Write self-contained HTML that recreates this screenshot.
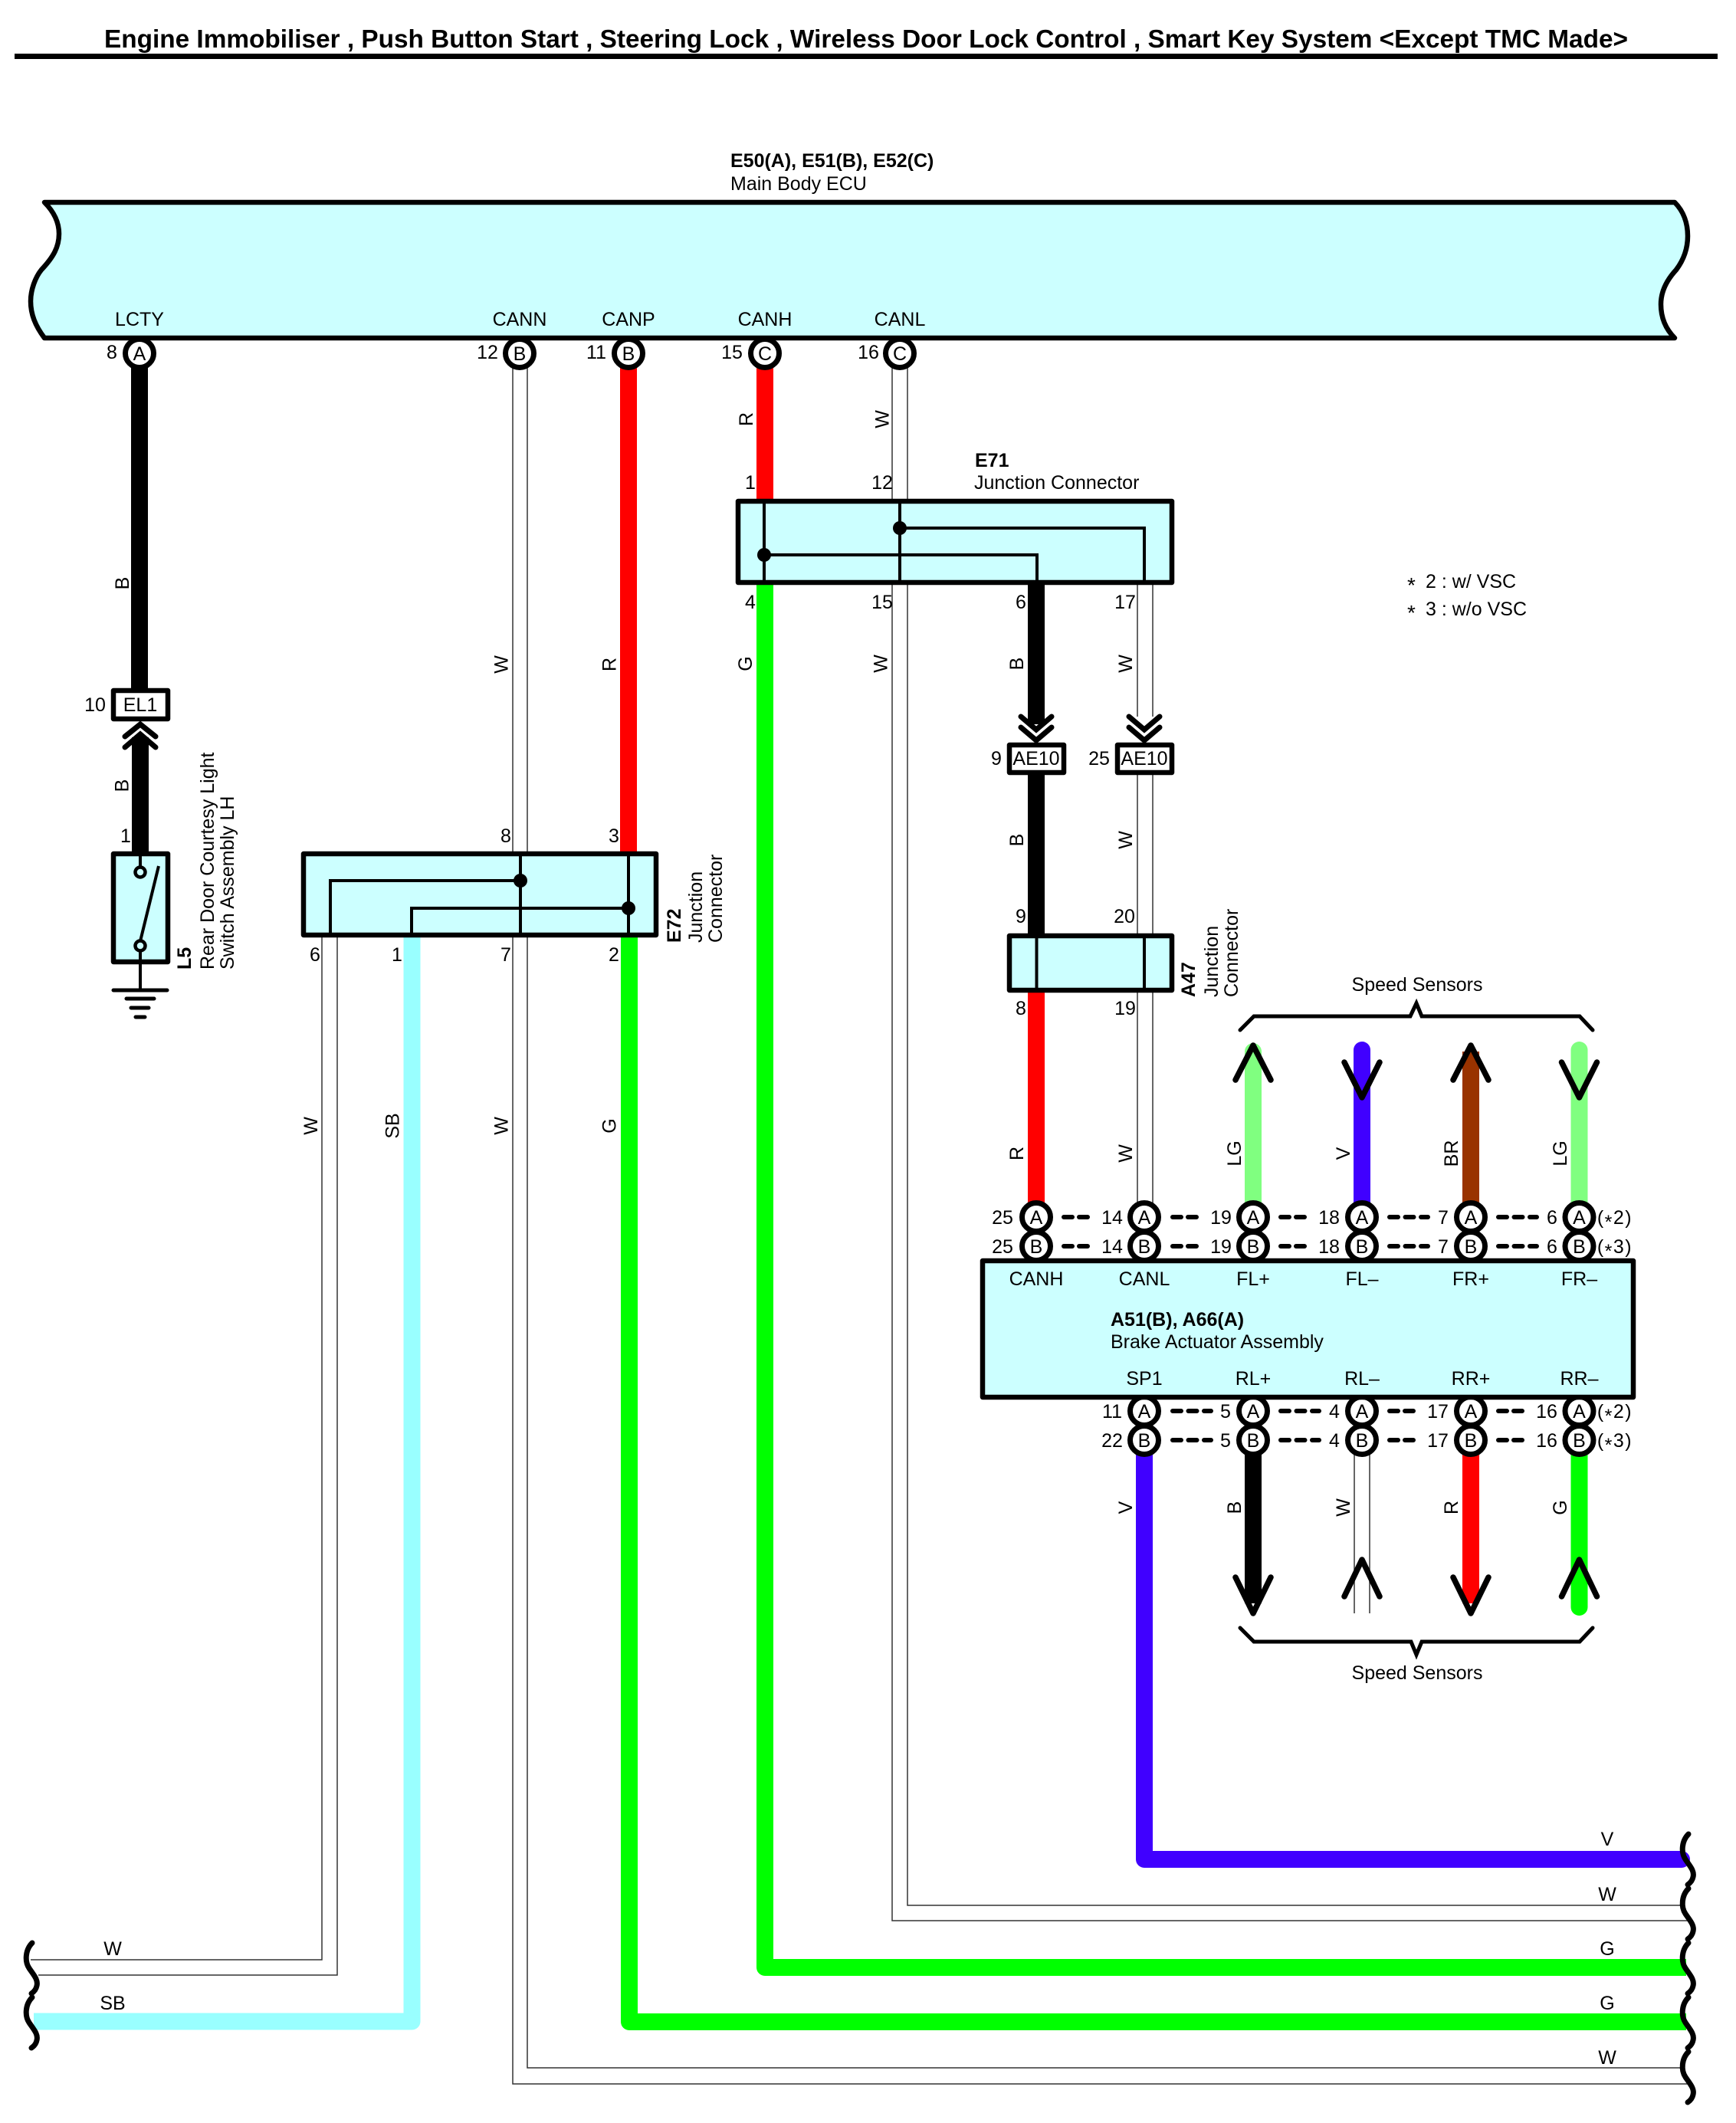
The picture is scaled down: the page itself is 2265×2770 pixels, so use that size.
<!DOCTYPE html>
<html><head><meta charset="utf-8"><style>
html,body{margin:0;padding:0;background:#fff}
svg{display:block}
text{font-family:"Liberation Sans",Arial,sans-serif;font-size:25px;fill:#000}
.m{text-anchor:middle}
.b{font-weight:bold}
.k{stroke:#000;fill:none}
.w{stroke:#333;stroke-width:1.5;fill:none}
.t{fill:none;stroke-width:22;stroke-linejoin:round}
.r{stroke-linecap:round}
.a{stroke:#000;stroke-width:7.5;fill:none;stroke-linecap:round;stroke-linejoin:round}
.c{stroke:#000;stroke-width:7;fill:none;stroke-linecap:round;stroke-linejoin:miter}
.p{fill:#fff;stroke:#000;stroke-width:7}
.box{fill:#ccffff;stroke:#000;stroke-width:6.5;stroke-linejoin:round}
.wb{fill:#fff;stroke:#000;stroke-width:6.5;stroke-linejoin:round}
.i{stroke:#000;stroke-width:4;fill:none}
.d{stroke:#000;stroke-width:6;stroke-linecap:round}
.d2{stroke-dasharray:11 9;}
.d3{stroke-dasharray:11 9.5;}
.n{letter-spacing:1.5px}
</style></head><body>
<svg xmlns="http://www.w3.org/2000/svg" width="2265" height="2770" viewBox="0 0 2265 2770">
<defs><path id="sq" d="M0 0C-9 9,-10 24,-4 33C2 42,8 48,6 56C5 61,2 64,-1 66" stroke="#000" stroke-width="7" fill="none" stroke-linecap="round"/></defs>
<rect width="2265" height="2770" fill="#fff"/>

<!-- title -->
<text x="136" y="62" font-size="33" class="b" style="font-size:33px" textLength="1988" lengthAdjust="spacingAndGlyphs">Engine Immobiliser , Push Button Start , Steering Lock , Wireless Door Lock Control , Smart Key System &lt;Except TMC Made&gt;</text>
<rect x="19" y="70" width="2222" height="7" fill="#000"/>

<text x="953" y="218" class="b">E50(A), E51(B), E52(C)</text>
<text x="953" y="248">Main Body ECU</text>

<!-- thick wires -->
<path class="t" stroke="#000" d="M182 470V898"/>
<path class="t" stroke="#000" d="M183 962V1112"/>
<path class="t" stroke="#f00" d="M820 470V1112"/>
<path class="t" stroke="#f00" d="M998 470V655"/>
<path class="t" stroke="#0f0" d="M998 760V2567H2200"/>
<path class="t" stroke="#0f0" d="M821 1222V2638H2200"/>
<path class="t" stroke="#99ffff" d="M537.5 1222V2637.5H44"/>
<path class="t" stroke="#000" d="M1352 760V945"/>
<path class="t" stroke="#000" d="M1352 1008V1220"/>
<path class="t" stroke="#f00" d="M1352 1293V1570"/>
<path class="t r" stroke="#80ff80" d="M1635 1372V1570"/>
<path class="t r" stroke="#4000ff" d="M1777 1370V1570"/>
<path class="t" stroke="#993300" d="M1919 1372V1570"/>
<path class="t r" stroke="#80ff80" d="M2060.5 1370V1570"/>
<path class="t" stroke="#4000ff" d="M1493 1895V2426"/>
<path class="t" stroke="#4000ff" d="M1493 2426H2194" stroke-linecap="round"/>
<path class="t" stroke="#000" d="M1635 1895V2092"/>
<path class="t" stroke="#f00" d="M1919 1895V2092"/>
<path class="t r" stroke="#0f0" d="M2060.5 1895V2097"/>

<!-- white wires -->
<path class="w" d="M669 470V2719H2204"/>
<path class="w" d="M688 470V2698H2193"/>
<path class="w" d="M1164 470V2506H2204"/>
<path class="w" d="M1184 470V2486H2193"/>
<path class="w" d="M1484 760V935M1504 760V935"/>
<path class="w" d="M1484 1008V1570M1504 1008V1570"/>
<path class="w" d="M420 1222V2557H40"/>
<path class="w" d="M440 1222V2577H50"/>
<path class="w" d="M1767 1895V2105M1787 1895V2105"/>

<!-- pins -->
<g class="p">
<circle class="p" cx="182" cy="461" r="18.5"/><circle class="p" cx="678" cy="461" r="18.5"/><circle class="p" cx="820" cy="461" r="18.5"/><circle class="p" cx="998" cy="461" r="18.5"/><circle class="p" cx="1174" cy="461" r="18.5"/>
<circle class="p" cx="1352" cy="1588" r="18.5"/><circle class="p" cx="1352" cy="1626" r="18.5"/>
<circle class="p" cx="1493" cy="1588" r="18.5"/><circle class="p" cx="1493" cy="1626" r="18.5"/>
<circle class="p" cx="1635" cy="1588" r="18.5"/><circle class="p" cx="1635" cy="1626" r="18.5"/>
<circle class="p" cx="1777" cy="1588" r="18.5"/><circle class="p" cx="1777" cy="1626" r="18.5"/>
<circle class="p" cx="1919" cy="1588" r="18.5"/><circle class="p" cx="1919" cy="1626" r="18.5"/>
<circle class="p" cx="2060.5" cy="1588" r="18.5"/><circle class="p" cx="2060.5" cy="1626" r="18.5"/>
<circle class="p" cx="1493" cy="1841" r="18.5"/><circle class="p" cx="1493" cy="1879" r="18.5"/>
<circle class="p" cx="1635" cy="1841" r="18.5"/><circle class="p" cx="1635" cy="1879" r="18.5"/>
<circle class="p" cx="1777" cy="1841" r="18.5"/><circle class="p" cx="1777" cy="1879" r="18.5"/>
<circle class="p" cx="1919" cy="1841" r="18.5"/><circle class="p" cx="1919" cy="1879" r="18.5"/>
<circle class="p" cx="2060.5" cy="1841" r="18.5"/><circle class="p" cx="2060.5" cy="1879" r="18.5"/>
</g>

<!-- ECU -->
<path class="box" d="M58 264L2185 264C2197 276,2202 292,2202 308C2202 330,2193 344,2187 352C2175 365,2167 380,2167 397C2167 415,2174 430,2185 441L58 441C46 425,40 410,40 393C40 378,46 362,54 352C70 335,77 322,77 305C77 290,70 276,58 264Z"/>

<!-- E71 -->
<rect class="box" x="963" y="654" width="566" height="106"/>
<path class="i" d="M997 654V760M1174 654V760M1174 689H1493V760M997 724H1353V760"/>
<circle cx="1174" cy="689" r="9"/><circle cx="997" cy="724" r="9"/>

<!-- A47 -->
<rect class="box" x="1317" y="1221" width="212" height="71"/>
<path class="i" d="M1352.5 1221V1292M1493 1221V1292"/>

<!-- E72 -->
<rect class="box" x="396" y="1114" width="460" height="106"/>
<path class="i" d="M679 1114V1220M820 1114V1220M431 1220V1149H679M537 1220V1185H820"/>
<circle cx="679" cy="1149" r="9"/><circle cx="820" cy="1185" r="9"/>

<!-- L5 -->
<rect class="box" x="148" y="1114" width="71" height="141"/>
<path class="i" d="M183 1114V1131M183 1242V1292M207 1130L183 1228"/>
<circle cx="183" cy="1138" r="6.5" fill="#ccffff" stroke="#000" stroke-width="4.5"/>
<circle cx="183" cy="1234" r="6.5" fill="#ccffff" stroke="#000" stroke-width="4.5"/>
<path stroke="#000" stroke-width="5" stroke-linecap="round" d="M148 1292H218M165 1303H201M171 1315H194M177 1327H189"/>

<!-- Brake actuator -->
<rect class="box" x="1282" y="1645" width="849" height="178"/>

<!-- connector boxes -->
<rect class="wb" x="148" y="901" width="71" height="37"/>
<rect class="wb" x="1317" y="972" width="71" height="36"/>
<rect class="wb" x="1458" y="972" width="71" height="36"/>
<text class="m" x="183" y="928">EL1</text>
<text class="m" x="1352" y="998">AE10</text>
<text class="m" x="1493" y="998">AE10</text>

<!-- chevrons -->
<path class="c" d="M163 961L183 945L203 961M163 975L183 958L203 975"/>
<path class="c" d="M1332 935L1352 952L1372 935M1332 949L1352 966L1372 949"/>
<path class="c" d="M1473 935L1493 952L1513 935M1473 949L1493 966L1513 949"/>

<!-- arrows -->
<path class="a" d="M1612 1409L1635 1364L1658 1409"/>
<path class="a" d="M1754 1386L1777 1432L1800 1386"/>
<path class="a" d="M1896 1409L1919 1364L1942 1409"/>
<path class="a" d="M2037.5 1386L2060.5 1432L2083.5 1386"/>
<path class="a" d="M1612 2058L1635 2105L1658 2058"/>
<path class="a" d="M1754 2083L1777 2035L1800 2083"/>
<path class="a" d="M1896 2058L1919 2105L1942 2058"/>
<path class="a" d="M2037.5 2083L2060.5 2035L2083.5 2083"/>

<!-- brackets -->
<path class="k" stroke-width="5" stroke-linecap="round" d="M1618 1344L1636 1326H1840L1848 1309L1855 1326H2061L2078 1344"/>
<path class="k" stroke-width="5" stroke-linecap="round" d="M1618 2124L1636 2142H1841L1848 2159L1855 2142H2061L2078 2124"/>

<!-- dashes -->
<g class="d">
<path class="d d2" d="M1388 1588H1419M1530 1588H1561M1671 1588H1702M1388 1626H1419M1530 1626H1561M1671 1626H1702M1813 1841H1844M1955 1841H1986M1813 1879H1844M1955 1879H1986"/>
<path class="d d3" d="M1813 1588H1863M1955 1588H2005M1813 1626H1863M1955 1626H2005M1530 1841H1580M1671 1841H1721M1530 1879H1580M1671 1879H1721"/>
</g>

<!-- squiggles -->
<use href="#sq" x="2203" y="2393"/><use href="#sq" x="2203" y="2464"/><use href="#sq" x="2203" y="2535"/><use href="#sq" x="2203" y="2606"/><use href="#sq" x="2203" y="2677"/>
<use href="#sq" x="42" y="2535"/><use href="#sq" x="42" y="2606"/>

<!-- ECU labels -->
<g class="m" text-anchor="middle">
<text class="m" x="182" y="425">LCTY</text><text class="m" x="678" y="425">CANN</text><text class="m" x="820" y="425">CANP</text><text class="m" x="998" y="425">CANH</text><text class="m" x="1174" y="425">CANL</text>
<text class="m" x="182" y="470">A</text><text class="m" x="678" y="470">B</text><text class="m" x="820" y="470">B</text><text class="m" x="998" y="470">C</text><text class="m" x="1174" y="470">C</text>
<text class="m" x="146" y="468">8</text><text class="m" x="636" y="468">12</text><text class="m" x="778" y="468">11</text><text class="m" x="955" y="468">15</text><text class="m" x="1133" y="468">16</text>

<!-- E71 pin nums -->
<text class="m" x="979" y="638">1</text><text class="m" x="1151" y="638">12</text>
<text class="m" x="979" y="794">4</text><text class="m" x="1151" y="794">15</text><text class="m" x="1332" y="794">6</text><text class="m" x="1468" y="794">17</text>
<text class="m" x="1300" y="998">9</text><text class="m" x="1434" y="998">25</text>
<text class="m" x="1332" y="1204">9</text><text class="m" x="1467" y="1204">20</text>
<text class="m" x="1332" y="1324">8</text><text class="m" x="1468" y="1324">19</text>

<!-- left nums -->
<text class="m" x="124" y="928">10</text><text class="m" x="164" y="1099">1</text>
<text class="m" x="660" y="1099">8</text><text class="m" x="801" y="1099">3</text>
<text class="m" x="411" y="1254">6</text><text class="m" x="518" y="1254">1</text><text class="m" x="660" y="1254">7</text><text class="m" x="801" y="1254">2</text>

<!-- brake upper pins -->
<text class="m" x="1352" y="1597">A</text><text class="m" x="1352" y="1635">B</text>
<text class="m" x="1493" y="1597">A</text><text class="m" x="1493" y="1635">B</text>
<text class="m" x="1635" y="1597">A</text><text class="m" x="1635" y="1635">B</text>
<text class="m" x="1777" y="1597">A</text><text class="m" x="1777" y="1635">B</text>
<text class="m" x="1919" y="1597">A</text><text class="m" x="1919" y="1635">B</text>
<text class="m" x="2060.5" y="1597">A</text><text class="m" x="2060.5" y="1635">B</text>
<text class="m" x="1308" y="1597">25</text><text class="m" x="1308" y="1635">25</text>
<text class="m" x="1451" y="1597">14</text><text class="m" x="1451" y="1635">14</text>
<text class="m" x="1593" y="1597">19</text><text class="m" x="1593" y="1635">19</text>
<text class="m" x="1734" y="1597">18</text><text class="m" x="1734" y="1635">18</text>
<text class="m" x="1883" y="1597">7</text><text class="m" x="1883" y="1635">7</text>
<text class="m" x="2025" y="1597">6</text><text class="m" x="2025" y="1635">6</text>
<text class="m n" x="2107" y="1597">(<tspan dy="6">*</tspan><tspan dy="-6">2)</tspan></text>
<text class="m n" x="2107" y="1635">(<tspan dy="6">*</tspan><tspan dy="-6">3)</tspan></text>

<!-- brake labels -->
<text class="m" x="1352" y="1677">CANH</text><text class="m" x="1493" y="1677">CANL</text><text class="m" x="1635" y="1677">FL+</text><text class="m" x="1777" y="1677">FL–</text><text class="m" x="1919" y="1677">FR+</text><text class="m" x="2060.5" y="1677">FR–</text>
<text class="m" x="1493" y="1807">SP1</text><text class="m" x="1635" y="1807">RL+</text><text class="m" x="1777" y="1807">RL–</text><text class="m" x="1919" y="1807">RR+</text><text class="m" x="2060.5" y="1807">RR–</text>

<!-- brake lower pins -->
<text class="m" x="1493" y="1850">A</text><text class="m" x="1493" y="1888">B</text>
<text class="m" x="1635" y="1850">A</text><text class="m" x="1635" y="1888">B</text>
<text class="m" x="1777" y="1850">A</text><text class="m" x="1777" y="1888">B</text>
<text class="m" x="1919" y="1850">A</text><text class="m" x="1919" y="1888">B</text>
<text class="m" x="2060.5" y="1850">A</text><text class="m" x="2060.5" y="1888">B</text>
<text class="m" x="1451" y="1850">11</text><text class="m" x="1451" y="1888">22</text>
<text class="m" x="1599" y="1850">5</text><text class="m" x="1599" y="1888">5</text>
<text class="m" x="1741" y="1850">4</text><text class="m" x="1741" y="1888">4</text>
<text class="m" x="1876" y="1850">17</text><text class="m" x="1876" y="1888">17</text>
<text class="m" x="2018" y="1850">16</text><text class="m" x="2018" y="1888">16</text>
<text class="m n" x="2107" y="1850">(<tspan dy="6">*</tspan><tspan dy="-6">2)</tspan></text>
<text class="m n" x="2107" y="1888">(<tspan dy="6">*</tspan><tspan dy="-6">3)</tspan></text>

<text class="m" x="1849" y="1293">Speed Sensors</text>
<text class="m" x="1849" y="2191">Speed Sensors</text>

<!-- wire end labels -->
<text class="m" x="2097" y="2408">V</text><text class="m" x="2097" y="2480">W</text><text class="m" x="2097" y="2551">G</text><text class="m" x="2097" y="2622">G</text><text class="m" x="2097" y="2693">W</text>
<text class="m" x="147" y="2551">W</text><text class="m" x="147" y="2622">SB</text>
</g>

<text x="1449" y="1730" class="b">A51(B), A66(A)</text>
<text x="1449" y="1759">Brake Actuator Assembly</text>
<text x="1272" y="609" class="b">E71</text>
<text x="1271" y="638">Junction Connector</text>

<text x="1836" y="773" style="font-size:28px">*</text><text x="1860" y="767">2 : w/ VSC</text>
<text x="1836" y="809" style="font-size:28px">*</text><text x="1860" y="803">3 : w/o VSC</text>

<!-- rotated wire labels -->
<text class="m" text-anchor="middle" transform="translate(159 761) rotate(-90)" y="9">B</text>
<text class="m" text-anchor="middle" transform="translate(158.500 1025) rotate(-90)" y="9">B</text>
<text class="m" text-anchor="middle" transform="translate(653.500 867) rotate(-90)" y="9">W</text>
<text class="m" text-anchor="middle" transform="translate(794.500 867) rotate(-90)" y="9">R</text>
<text class="m" text-anchor="middle" transform="translate(973 547) rotate(-90)" y="9">R</text>
<text class="m" text-anchor="middle" transform="translate(1150.500 547) rotate(-90)" y="9">W</text>
<text class="m" text-anchor="middle" transform="translate(972 866) rotate(-90)" y="9">G</text>
<text class="m" text-anchor="middle" transform="translate(1148.500 866) rotate(-90)" y="9">W</text>
<text class="m" text-anchor="middle" transform="translate(1326 866) rotate(-90)" y="9">B</text>
<text class="m" text-anchor="middle" transform="translate(1468 866) rotate(-90)" y="9">W</text>
<text class="m" text-anchor="middle" transform="translate(1326 1096) rotate(-90)" y="9">B</text>
<text class="m" text-anchor="middle" transform="translate(1468 1096) rotate(-90)" y="9">W</text>
<text class="m" text-anchor="middle" transform="translate(405 1469) rotate(-90)" y="9">W</text>
<text class="m" text-anchor="middle" transform="translate(511.500 1469) rotate(-90)" y="9">SB</text>
<text class="m" text-anchor="middle" transform="translate(653.500 1469) rotate(-90)" y="9">W</text>
<text class="m" text-anchor="middle" transform="translate(794.500 1469) rotate(-90)" y="9">G</text>
<text class="m" text-anchor="middle" transform="translate(1326 1505) rotate(-90)" y="9">R</text>
<text class="m" text-anchor="middle" transform="translate(1468 1505) rotate(-90)" y="9">W</text>
<text class="m" text-anchor="middle" transform="translate(1610 1505) rotate(-90)" y="9">LG</text>
<text class="m" text-anchor="middle" transform="translate(1752 1505) rotate(-90)" y="9">V</text>
<text class="m" text-anchor="middle" transform="translate(1893 1505) rotate(-90)" y="9">BR</text>
<text class="m" text-anchor="middle" transform="translate(2035 1505) rotate(-90)" y="9">LG</text>
<text class="m" text-anchor="middle" transform="translate(1468 1967) rotate(-90)" y="9">V</text>
<text class="m" text-anchor="middle" transform="translate(1610 1967) rotate(-90)" y="9">B</text>
<text class="m" text-anchor="middle" transform="translate(1752 1967) rotate(-90)" y="9">W</text>
<text class="m" text-anchor="middle" transform="translate(1893 1967) rotate(-90)" y="9">R</text>
<text class="m" text-anchor="middle" transform="translate(2035 1967) rotate(-90)" y="9">G</text>

<!-- rotated designators -->
<text class="b" transform="translate(240 1265) rotate(-90)" y="9">L5</text>
<text transform="translate(270 1265) rotate(-90)" y="9">Rear Door Courtesy Light</text>
<text transform="translate(296 1265) rotate(-90)" y="9">Switch Assembly LH</text>
<text class="b" transform="translate(879 1230) rotate(-90)" y="9">E72</text>
<text transform="translate(907 1230) rotate(-90)" y="9">Junction</text>
<text transform="translate(933 1230) rotate(-90)" y="9">Connector</text>
<text class="b" transform="translate(1550 1301) rotate(-90)" y="9">A47</text>
<text transform="translate(1580 1301) rotate(-90)" y="9">Junction</text>
<text transform="translate(1606 1301) rotate(-90)" y="9">Connector</text>
</svg>
</body></html>
